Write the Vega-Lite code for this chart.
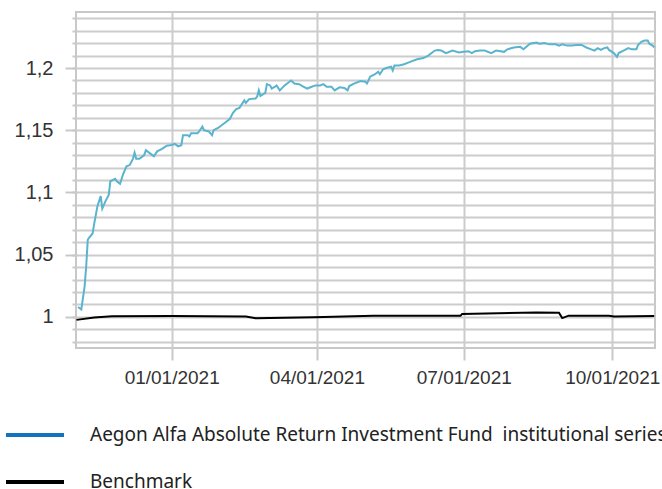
{
  "$schema": "https://vega.github.io/schema/vega-lite/v6.json",
  "width": 579,
  "height": 336,
  "autosize": "none",
  "padding": {"left": 76, "top": 12, "right": 7, "bottom": 141},
  "background": "white",
  "config": {
    "view": {"stroke": "#c8c8c8", "strokeWidth": 2},
    "axis": {"labelFont": "Liberation Sans", "labelFontSize": 19, "labelColor": "#333333", "tickColor": "#c8c8c8", "tickWidth": 2, "gridColor": "#cccccc", "gridWidth": 2, "domain": false, "title": null}
  },
  "data": {"values": [
    {"d":"2020-11-04","s":"Fund","v":1.008},{"d":"2020-11-05","s":"Fund","v":1.007},{"d":"2020-11-06","s":"Fund","v":1.006},
    {"d":"2020-11-08","s":"Fund","v":1.024},{"d":"2020-11-09","s":"Fund","v":1.040},{"d":"2020-11-10","s":"Fund","v":1.062},
    {"d":"2020-11-11","s":"Fund","v":1.064},{"d":"2020-11-13","s":"Fund","v":1.067},{"d":"2020-11-14","s":"Fund","v":1.075},
    {"d":"2020-11-16","s":"Fund","v":1.089},{"d":"2020-11-18","s":"Fund","v":1.097},{"d":"2020-11-19","s":"Fund","v":1.087},
    {"d":"2020-11-21","s":"Fund","v":1.093},{"d":"2020-11-23","s":"Fund","v":1.098},{"d":"2020-11-24","s":"Fund","v":1.109},
    {"d":"2020-11-27","s":"Fund","v":1.111},{"d":"2020-11-28","s":"Fund","v":1.109},{"d":"2020-11-30","s":"Fund","v":1.107},
    {"d":"2020-12-02","s":"Fund","v":1.115},{"d":"2020-12-04","s":"Fund","v":1.121},{"d":"2020-12-06","s":"Fund","v":1.122},
    {"d":"2020-12-08","s":"Fund","v":1.127},{"d":"2020-12-09","s":"Fund","v":1.132},{"d":"2020-12-10","s":"Fund","v":1.127},
    {"d":"2020-12-12","s":"Fund","v":1.127},{"d":"2020-12-15","s":"Fund","v":1.130},{"d":"2020-12-16","s":"Fund","v":1.134},
    {"d":"2020-12-19","s":"Fund","v":1.131},{"d":"2020-12-21","s":"Fund","v":1.129},{"d":"2020-12-23","s":"Fund","v":1.133},
    {"d":"2020-12-26","s":"Fund","v":1.135},{"d":"2020-12-29","s":"Fund","v":1.1376},{"d":"2020-12-31","s":"Fund","v":1.138},
    {"d":"2021-01-03","s":"Fund","v":1.139},{"d":"2021-01-05","s":"Fund","v":1.137},{"d":"2021-01-07","s":"Fund","v":1.138},
    {"d":"2021-01-08","s":"Fund","v":1.146},{"d":"2021-01-11","s":"Fund","v":1.146},{"d":"2021-01-12","s":"Fund","v":1.145},
    {"d":"2021-01-13","s":"Fund","v":1.1475},{"d":"2021-01-17","s":"Fund","v":1.1475},{"d":"2021-01-18","s":"Fund","v":1.149},
    {"d":"2021-01-20","s":"Fund","v":1.153},{"d":"2021-01-21","s":"Fund","v":1.150},{"d":"2021-01-24","s":"Fund","v":1.149},
    {"d":"2021-01-26","s":"Fund","v":1.146},{"d":"2021-01-27","s":"Fund","v":1.150},{"d":"2021-01-30","s":"Fund","v":1.152},
    {"d":"2021-02-03","s":"Fund","v":1.156},{"d":"2021-02-06","s":"Fund","v":1.159},{"d":"2021-02-08","s":"Fund","v":1.164},
    {"d":"2021-02-10","s":"Fund","v":1.167},{"d":"2021-02-12","s":"Fund","v":1.168},{"d":"2021-02-15","s":"Fund","v":1.174},
    {"d":"2021-02-16","s":"Fund","v":1.172},{"d":"2021-02-18","s":"Fund","v":1.175},{"d":"2021-02-22","s":"Fund","v":1.1755},
    {"d":"2021-02-23","s":"Fund","v":1.177},{"d":"2021-02-24","s":"Fund","v":1.182},{"d":"2021-02-25","s":"Fund","v":1.1775},
    {"d":"2021-02-28","s":"Fund","v":1.180},{"d":"2021-03-01","s":"Fund","v":1.187},{"d":"2021-03-03","s":"Fund","v":1.186},
    {"d":"2021-03-04","s":"Fund","v":1.1835},{"d":"2021-03-06","s":"Fund","v":1.185},{"d":"2021-03-07","s":"Fund","v":1.186},
    {"d":"2021-03-09","s":"Fund","v":1.182},{"d":"2021-03-12","s":"Fund","v":1.186},{"d":"2021-03-16","s":"Fund","v":1.190},
    {"d":"2021-03-18","s":"Fund","v":1.1875},{"d":"2021-03-21","s":"Fund","v":1.187},{"d":"2021-03-23","s":"Fund","v":1.1855},
    {"d":"2021-03-26","s":"Fund","v":1.1835},{"d":"2021-03-28","s":"Fund","v":1.1845},{"d":"2021-03-31","s":"Fund","v":1.186},
    {"d":"2021-04-03","s":"Fund","v":1.186},{"d":"2021-04-05","s":"Fund","v":1.187},{"d":"2021-04-07","s":"Fund","v":1.185},
    {"d":"2021-04-10","s":"Fund","v":1.185},{"d":"2021-04-12","s":"Fund","v":1.182},{"d":"2021-04-15","s":"Fund","v":1.1845},
    {"d":"2021-04-18","s":"Fund","v":1.184},{"d":"2021-04-20","s":"Fund","v":1.182},{"d":"2021-04-21","s":"Fund","v":1.1855},
    {"d":"2021-04-24","s":"Fund","v":1.1875},{"d":"2021-04-28","s":"Fund","v":1.1895},{"d":"2021-05-01","s":"Fund","v":1.189},
    {"d":"2021-05-02","s":"Fund","v":1.1875},{"d":"2021-05-04","s":"Fund","v":1.193},{"d":"2021-05-07","s":"Fund","v":1.195},
    {"d":"2021-05-09","s":"Fund","v":1.197},{"d":"2021-05-10","s":"Fund","v":1.195},{"d":"2021-05-12","s":"Fund","v":1.199},
    {"d":"2021-05-14","s":"Fund","v":1.200},{"d":"2021-05-17","s":"Fund","v":1.201},{"d":"2021-05-18","s":"Fund","v":1.198},
    {"d":"2021-05-19","s":"Fund","v":1.202},{"d":"2021-05-22","s":"Fund","v":1.202},{"d":"2021-05-25","s":"Fund","v":1.203},
    {"d":"2021-05-28","s":"Fund","v":1.2045},{"d":"2021-06-02","s":"Fund","v":1.207},{"d":"2021-06-06","s":"Fund","v":1.208},
    {"d":"2021-06-09","s":"Fund","v":1.210},{"d":"2021-06-13","s":"Fund","v":1.214},{"d":"2021-06-15","s":"Fund","v":1.2145},
    {"d":"2021-06-17","s":"Fund","v":1.214},{"d":"2021-06-20","s":"Fund","v":1.212},{"d":"2021-06-24","s":"Fund","v":1.214},
    {"d":"2021-06-28","s":"Fund","v":1.2125},{"d":"2021-07-01","s":"Fund","v":1.213},{"d":"2021-07-04","s":"Fund","v":1.2135},
    {"d":"2021-07-06","s":"Fund","v":1.212},{"d":"2021-07-08","s":"Fund","v":1.2135},{"d":"2021-07-11","s":"Fund","v":1.214},
    {"d":"2021-07-14","s":"Fund","v":1.214},{"d":"2021-07-18","s":"Fund","v":1.212},{"d":"2021-07-21","s":"Fund","v":1.214},
    {"d":"2021-07-26","s":"Fund","v":1.213},{"d":"2021-07-28","s":"Fund","v":1.215},{"d":"2021-08-01","s":"Fund","v":1.2165},
    {"d":"2021-08-05","s":"Fund","v":1.217},{"d":"2021-08-07","s":"Fund","v":1.215},{"d":"2021-08-11","s":"Fund","v":1.2195},
    {"d":"2021-08-15","s":"Fund","v":1.2205},{"d":"2021-08-17","s":"Fund","v":1.2195},{"d":"2021-08-20","s":"Fund","v":1.220},
    {"d":"2021-08-23","s":"Fund","v":1.219},{"d":"2021-08-27","s":"Fund","v":1.219},{"d":"2021-08-29","s":"Fund","v":1.218},
    {"d":"2021-08-31","s":"Fund","v":1.219},{"d":"2021-09-03","s":"Fund","v":1.218},{"d":"2021-09-06","s":"Fund","v":1.218},
    {"d":"2021-09-09","s":"Fund","v":1.2185},{"d":"2021-09-12","s":"Fund","v":1.2185},{"d":"2021-09-15","s":"Fund","v":1.2165},
    {"d":"2021-09-18","s":"Fund","v":1.215},{"d":"2021-09-20","s":"Fund","v":1.214},{"d":"2021-09-22","s":"Fund","v":1.216},
    {"d":"2021-09-24","s":"Fund","v":1.2145},{"d":"2021-09-26","s":"Fund","v":1.216},{"d":"2021-09-28","s":"Fund","v":1.2165},
    {"d":"2021-09-29","s":"Fund","v":1.2145},{"d":"2021-10-02","s":"Fund","v":1.212},{"d":"2021-10-04","s":"Fund","v":1.209},
    {"d":"2021-10-05","s":"Fund","v":1.212},{"d":"2021-10-08","s":"Fund","v":1.214},{"d":"2021-10-11","s":"Fund","v":1.216},
    {"d":"2021-10-13","s":"Fund","v":1.215},{"d":"2021-10-16","s":"Fund","v":1.215},{"d":"2021-10-17","s":"Fund","v":1.2185},
    {"d":"2021-10-19","s":"Fund","v":1.221},{"d":"2021-10-21","s":"Fund","v":1.222},{"d":"2021-10-23","s":"Fund","v":1.222},
    {"d":"2021-10-24","s":"Fund","v":1.2195},{"d":"2021-10-26","s":"Fund","v":1.218},{"d":"2021-10-27","s":"Fund","v":1.2165},
    {"d":"2020-11-03","s":"Benchmark","v":0.9976},{"d":"2020-11-14","s":"Benchmark","v":0.9995},{"d":"2020-11-25","s":"Benchmark","v":1.0005},
    {"d":"2021-01-01","s":"Benchmark","v":1.0008},{"d":"2021-02-16","s":"Benchmark","v":1.0003},{"d":"2021-02-22","s":"Benchmark","v":0.999},
    {"d":"2021-03-30","s":"Benchmark","v":0.9998},{"d":"2021-05-06","s":"Benchmark","v":1.001},{"d":"2021-06-29","s":"Benchmark","v":1.001},
    {"d":"2021-06-30","s":"Benchmark","v":1.0024},{"d":"2021-08-15","s":"Benchmark","v":1.0035},{"d":"2021-08-29","s":"Benchmark","v":1.0033},
    {"d":"2021-08-31","s":"Benchmark","v":0.999},{"d":"2021-09-04","s":"Benchmark","v":1.001},{"d":"2021-09-29","s":"Benchmark","v":1.001},
    {"d":"2021-10-02","s":"Benchmark","v":1.0003},{"d":"2021-10-27","s":"Benchmark","v":1.0008}
  ]},
  "encoding": {
    "x": {
      "field": "d", "type": "temporal",
      "scale": {"type": "utc", "domain": [{"year": 2020, "month": 11, "date": 2, "hours": 17, "utc": true}, {"year": 2021, "month": 10, "date": 27, "hours": 12, "utc": true}]},
      "axis": {
        "values": [{"year": 2021, "month": 1, "date": 1, "utc": true}, {"year": 2021, "month": 4, "date": 1, "utc": true}, {"year": 2021, "month": 7, "date": 1, "utc": true}, {"year": 2021, "month": 10, "date": 1, "utc": true}],
        "format": "%m/%d/%Y", "tickSize": 12, "grid": true, "labelPadding": 8, "labelFlush": false, "labelOverlap": false
      }
    }
  },
  "layer": [
    {
      "mark": {"type": "line", "strokeWidth": 1, "opacity": 0},
      "encoding": {
        "y": {"field": "v", "type": "quantitative",
          "scale": {"domain": [0.975, 1.245], "nice": false, "zero": false},
          "axis": {"orient": "left", "values": [0.98, 0.99, 1.0, 1.01, 1.02, 1.03, 1.04, 1.05, 1.06, 1.07, 1.08, 1.09, 1.1, 1.11, 1.12, 1.13, 1.14, 1.15, 1.16, 1.17, 1.18, 1.19, 1.2, 1.21, 1.22, 1.23, 1.24], "grid": true, "tickSize": 4, "labels": false}},
        "stroke": {"field": "s", "type": "nominal",
          "scale": {"domain": ["Fund", "Benchmark"], "range": ["#1473be", "#000000"]},
          "legend": {
            "orient": "none", "legendX": -72, "legendY": 392, "title": null, "direction": "vertical", "padding": 0,
            "symbolType": "stroke", "symbolSize": 3364, "symbolStrokeWidth": 4, "labelOffset": 24, "rowPadding": 6,
            "labelFont": "Noto Sans", "labelFontSize": 19, "labelColor": "#222222", "labelLimit": 0,
            "labelExpr": "datum.label == 'Fund' ? 'Aegon Alfa Absolute Return Investment Fund\u00a0 institutional series' : datum.label",
            "encode": {"symbols": {"update": {"opacity": {"value": 1}, "strokeOpacity": {"value": 1}, "strokeWidth": {"value": 4}}}}
          }
        }
      }
    },
    {
      "mark": {"type": "line", "strokeWidth": 2},
      "encoding": {
        "y": {"field": "v", "type": "quantitative",
          "scale": {"domain": [0.975, 1.245], "nice": false, "zero": false},
          "axis": {"orient": "left", "values": [1.0, 1.05, 1.1, 1.15, 1.2], "grid": false, "tickSize": 11, "labelPadding": 12, "labelFontSize": 20,
            "labelExpr": "replace(format(datum.value, '.2~f'), '.', ',')"}},
        "color": {"field": "s", "type": "nominal",
          "scale": {"domain": ["Fund", "Benchmark"], "range": ["#5ab4cd", "#000000"]},
          "legend": null}
      }
    }
  ],
  "resolve": {"axis": {"y": "independent"}}
}
